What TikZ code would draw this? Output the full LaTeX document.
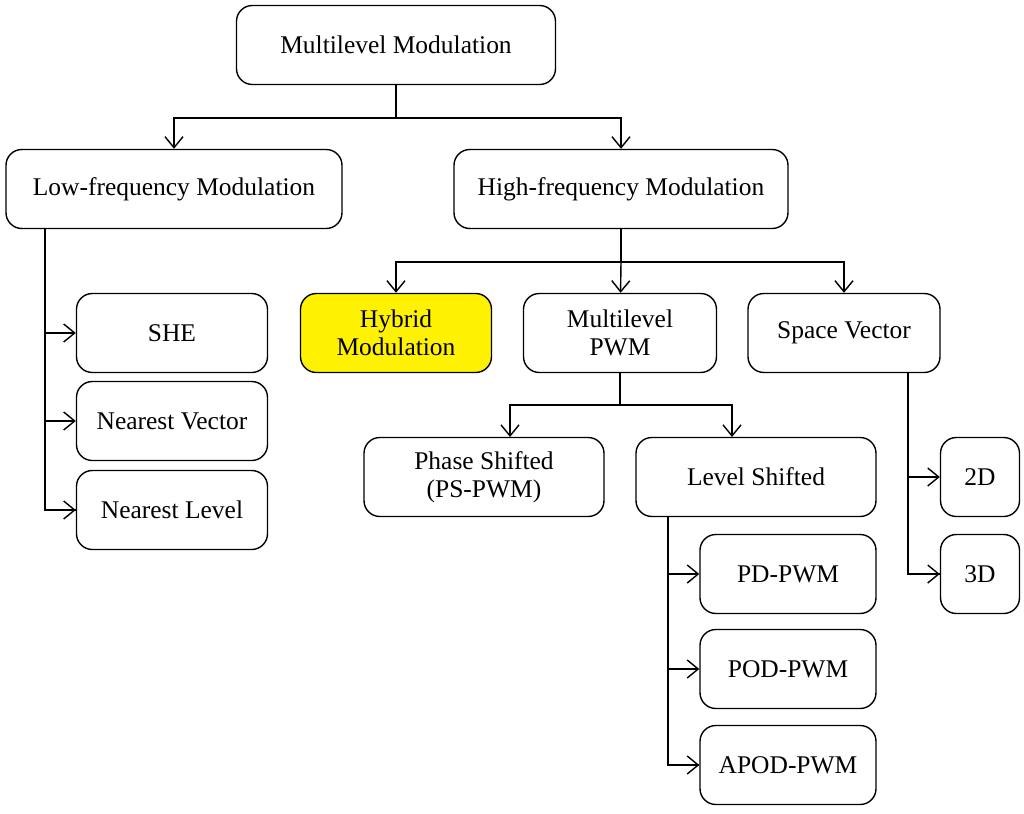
\documentclass[tikz,border=0pt]{standalone}
\usepackage{fontspec}
\setmainfont{Liberation Serif}
\usetikzlibrary{arrows.meta}
\tikzset{
  box/.style={draw, thick, rounded corners=9pt, align=center, font=\fontsize{14.5}{16}\selectfont, inner sep=0pt},
  link/.style={thick, -{Straight Barb[length=2.2mm,width=3.6mm]}}
}
\begin{document}
\begin{tikzpicture}[x=0.02cm, y=-0.02cm]
            \useasboundingbox (0,0) rectangle (1024,814);
            \node[box, minimum width=319*0.02cm, minimum height=79*0.02cm] (mm)   at (396, 45) {Multilevel Modulation};
            \node[box, minimum width=336*0.02cm, minimum height=79*0.02cm] (low)  at (174, 189) {Low-frequency Modulation};
            \node[box, minimum width=334*0.02cm, minimum height=79*0.02cm] (high) at (621, 189) {High-frequency Modulation};

            \node[box, minimum width=191*0.02cm, minimum height=79*0.02cm] (she) at (172, 333) {SHE};
            \node[box, minimum width=191*0.02cm, minimum height=79*0.02cm] (nv)  at (172, 421) {Nearest Vector};
            \node[box, minimum width=191*0.02cm, minimum height=79*0.02cm] (nl)  at (172, 510) {Nearest Level};

            \node[box, fill=yellow, minimum width=191*0.02cm, minimum height=79*0.02cm] (hyb) at (396, 333) {Hybrid\\Modulation};
            \node[box, minimum width=193*0.02cm, minimum height=79*0.02cm] (mpwm) at (620, 333) {Multilevel\\PWM};
            \node[box, minimum width=192*0.02cm, minimum height=79*0.02cm] (sv)   at (844, 333) {Space Vector};

            \node[box, minimum width=240*0.02cm, minimum height=79*0.02cm] (ps) at (484, 477) {Phase Shifted\\(PS-PWM)};
            \node[box, minimum width=240*0.02cm, minimum height=79*0.02cm] (ls) at (756, 477) {Level Shifted};

            \node[box, minimum width=79*0.02cm, minimum height=79*0.02cm] (d2) at (980, 477) {2D};
            \node[box, minimum width=79*0.02cm, minimum height=79*0.02cm] (d3) at (980, 574) {3D};

            \node[box, minimum width=176*0.02cm, minimum height=79*0.02cm] (pd)   at (788, 574) {PD-PWM};
            \node[box, minimum width=176*0.02cm, minimum height=79*0.02cm] (pod)  at (788, 669) {POD-PWM};
            \node[box, minimum width=176*0.02cm, minimum height=79*0.02cm] (apod) at (788, 765) {APOD-PWM};

            % top level split
            \coordinate (j1) at (396, 118);
            \draw[thick] (mm) -- (j1);
            \draw[link] (j1) -| (low);
            \draw[link] (j1) -| (high);

            % low-frequency branch
            \draw[thick] (low.south -| 45,0) |- (nl.west);
            \draw[link] (45,333) -- (she);
            \draw[link] (45,421) -- (nv);
            \draw[link] (45,510) -- (nl);

            % high-frequency branch
            \coordinate (j2) at (621, 262);
            \draw[thick] (high) -- (j2);
            \draw[link] (j2) -| (hyb);
            \draw[link] (j2) -- (mpwm);
            \draw[link] (j2) -| (sv);

            % multilevel PWM branch
            \coordinate (j3) at (620, 405);
            \draw[thick] (mpwm) -- (j3);
            \draw[link] (j3) -| (510, 437);
            \draw[link] (j3) -| (732, 437);

            % level shifted branch
            \draw[thick] (ls.south -| 668,0) |- (apod.west);
            \draw[link] (668,574) -- (pd);
            \draw[link] (668,669) -- (pod);
            \draw[link] (668,765) -- (apod);

            % space vector branch
            \draw[thick] (sv.south -| 908,0) |- (d3.west);
            \draw[link] (908,477) -- (d2);
            \draw[link] (908,574) -- (d3);
        \end{tikzpicture}
\end{document}
